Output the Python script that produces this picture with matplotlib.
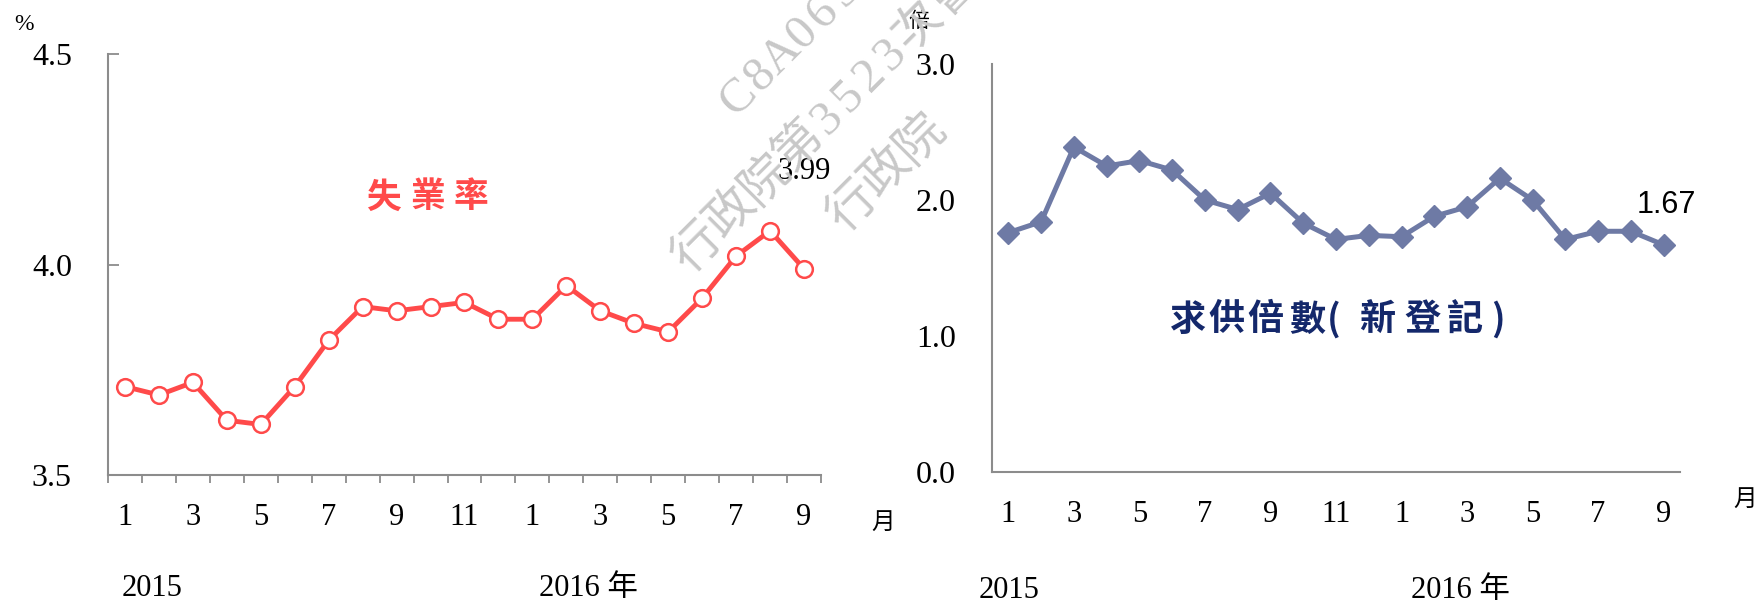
import numpy as np
import matplotlib
matplotlib.use('Agg')
import matplotlib.pyplot as plt

# 2015/1 .. 2016/9
months = [1, 2, 3, 4, 5, 6, 7, 8, 9, 10, 11, 12, 1, 2, 3, 4, 5, 6, 7, 8, 9]
unemp = [3.71, 3.69, 3.72, 3.63, 3.62, 3.71, 3.82, 3.90, 3.89, 3.90, 3.91,
         3.87, 3.87, 3.95, 3.89, 3.86, 3.84, 3.92, 4.02, 4.08, 3.99]
ratio = [1.76, 1.84, 2.39, 2.25, 2.29, 2.22, 2.00, 1.93, 2.05, 1.83, 1.71,
         1.74, 1.73, 1.88, 1.95, 2.16, 2.00, 1.71, 1.77, 1.77, 1.67]

serif = ['Liberation Serif', 'Noto Sans CJK TC']
cjk = ['Noto Sans CJK TC', 'DejaVu Sans']
red = '#ff4a4a'
slate = '#6e7aa5'
navy = '#14286b'
grey = '#8c8c8c'

plt.rcParams['font.family'] = serif

fig = plt.figure(figsize=(17.58, 6.06), dpi=100)
W, H = 1758, 606

def px_axes(x0, y0, x1, y1):
    return fig.add_axes([x0 / W, 1 - y1 / H, (x1 - x0) / W, (y1 - y0) / H])

def ftext(px, py, s, **kw):
    kw.setdefault('ha', 'center')
    kw.setdefault('va', 'center')
    return fig.text(px / W, 1 - py / H, s, **kw)

def spaced(px, py, chars, offsets, **kw):
    # one glyph per position, to get the wide letter spacing of the original
    for c, dx in zip(chars, offsets):
        ftext(px + dx, py, c, **kw)

def diag(px, py, s, **kw):
    # watermark text running up-right at 45 deg
    d = 0.0
    for c in s:
        step = 48 if ord(c) > 255 else 30
        d += step / 2
        ftext(px + d * 0.7071, py - d * 0.7071, c, rotation=45,
              rotation_mode='anchor', **kw)
        d += step / 2

x = np.arange(len(months))
lab_pos = x[::2]
lab_txt = [str(m) for m in months[::2]]

# ---- left: unemployment rate
ax1 = px_axes(108, 54, 821, 475)
ax1.plot(x, unemp, color=red, lw=3.5, marker='o', ms=12, mfc='white',
         mec=red, mew=1.8, zorder=3)
ax1.set_xlim(-0.5, len(x) - 0.5)
ax1.set_ylim(3.5, 4.5)
ax1.set_yticks([3.5, 4.0, 4.5])
ax1.set_yticklabels(['3.5', '4.0', '4.5'])
ax1.tick_params(axis='y', direction='in', length=8, width=1.3, color=grey,
                labelsize=23, pad=26)
ax1.set_xticks(lab_pos)
ax1.set_xticklabels(lab_txt)
ax1.set_xticks(np.arange(-0.5, len(x)), minor=True)
ax1.tick_params(axis='x', which='major', length=0, labelsize=22, pad=20)
ax1.tick_params(axis='x', which='minor', direction='out', length=6,
                width=1.3, color=grey)
ax1.annotate('3.99', (x[-1], unemp[-1]), xytext=(0, 70),
             textcoords='offset points', ha='center', va='center',
             fontsize=22)

# ---- right: job openings ratio
ax2 = px_axes(992, 64, 1680, 472)
ax2.plot(x, ratio, color=slate, lw=3.6, marker='D', ms=11, mfc=slate,
         mec=slate, zorder=3)
ax2.set_xlim(-0.5, len(x) - 0.5)
ax2.set_ylim(0, 3.0)
ax2.set_yticks([0, 1, 2, 3])
ax2.set_yticklabels(['0.0', '1.0', '2.0', '3.0'])
ax2.tick_params(axis='y', length=0, labelsize=23, pad=26)
ax2.set_xticks(lab_pos)
ax2.set_xticklabels(lab_txt)
ax2.tick_params(axis='x', length=0, labelsize=22, pad=20)
ax2.annotate('1.67', (x[-1], ratio[-1]), xytext=(2, 29),
             textcoords='offset points', ha='center', va='center',
             fontsize=22, family='Liberation Sans')

for ax in (ax1, ax2):
    for s in ('top', 'right'):
        ax.spines[s].set_visible(False)
    for s in ('left', 'bottom'):
        ax.spines[s].set_color(grey)
        ax.spines[s].set_linewidth(1.5)

# series names
spaced(383, 197, '失業率', [0, 45, 88], fontsize=25, color=red,
       fontweight='bold', family=cjk)
spaced(1188, 320, '求供倍數(新登記)', [0, 39, 77, 119, 146, 189, 234, 277, 310],
       fontsize=26, color=navy, fontweight='bold', family=cjk)

# units and year captions
ftext(24, 25, '%', fontsize=17)
ftext(919, 21, '倍', fontsize=15, family=cjk)
ftext(883, 522, '月', fontsize=17, family=cjk)
ftext(1745, 499, '月', fontsize=17, family=cjk)
ftext(152, 588, '2015', fontsize=22)
ftext(588, 588, '2016 年', fontsize=22, family=serif)
ftext(1009, 591, '2015', fontsize=22)
ftext(1460, 591, '2016 年', fontsize=22, family=serif)

# watermark
wm = dict(fontsize=35, color='#c8c8c8', family=serif, zorder=10)
diag(728, 108, 'C8A0635', **wm)
diag(681, 265, '行政院第3523次會', **wm)
diag(836, 224, '行政院', **wm)

fig.savefig('out.png', dpi=100)
